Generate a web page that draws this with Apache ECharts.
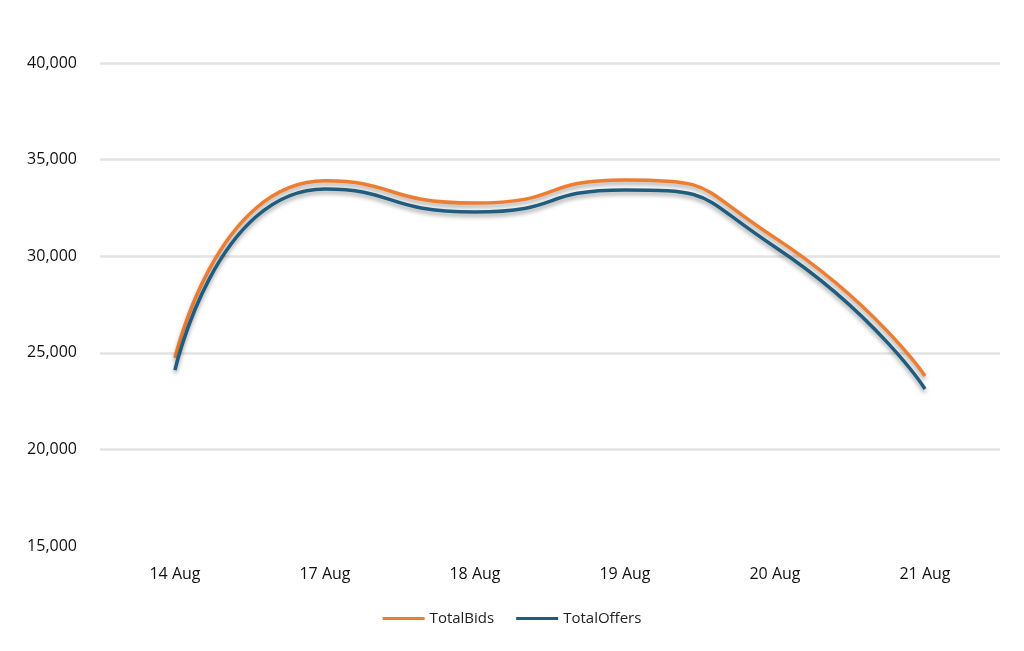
<!DOCTYPE html>
<html><head><meta charset="utf-8">
<script src="https://cdn.jsdelivr.net/npm/echarts@6/dist/echarts.min.js"></script>
<style>html,body{margin:0;padding:0;background:#fff}#c{width:1024px;height:651px}</style>
</head><body><div id="c"></div>
<script>
const categories = ['14 Aug','17 Aug','18 Aug','19 Aug','20 Aug','21 Aug'];
const totalBids = [24730, 33900, 32750, 33950, 30950, 23800];
const totalOffers = [24100, 33480, 32290, 33430, 30480, 23130];
const yTicks = {min: 15000, max: 40000, interval: 5000};

const chart = echarts.init(document.getElementById('c'));
const font = '"Open Sans", "Noto Sans", sans-serif';
function line(name, data, color) {
  return {name, type: 'line', data, smooth: 0.6, symbol: 'none',
    lineStyle: {color, width: 3.5, shadowColor: 'rgba(0,0,0,0.35)', shadowBlur: 4, shadowOffsetY: 3},
    itemStyle: {color}};
}
chart.setOption({
  animation: false,
  grid: {left: 100, right: 24, top: 63, bottom: 105},
  legend: {bottom: 20, left: 'center', itemWidth: 42, itemHeight: 3, itemGap: 22,
    icon: 'rect', textStyle: {fontFamily: font, fontSize: 15, color: '#222'},
    data: ['TotalBids', 'TotalOffers']},
  xAxis: {type: 'category', data: categories, boundaryGap: true,
    axisLine: {show: false}, axisTick: {show: false},
    axisLabel: {fontFamily: font, fontSize: 16, color: '#111', margin: 20}},
  yAxis: {type: 'value', min: yTicks.min, max: yTicks.max, interval: yTicks.interval,
    axisLine: {show: false}, axisTick: {show: false},
    splitLine: {lineStyle: {color: ['rgba(0,0,0,0)','#e3e3e3','#e3e3e3','#e3e3e3','#e3e3e3','#e3e3e3'], width: 2.5}},
    axisLabel: {fontFamily: font, fontSize: 16, color: '#111', margin: 23,
      formatter: v => v.toLocaleString('en-US')}},
  series: [line('TotalBids', totalBids, '#ED7D31'), line('TotalOffers', totalOffers, '#1F5C7E')]
});
</script></body></html>
